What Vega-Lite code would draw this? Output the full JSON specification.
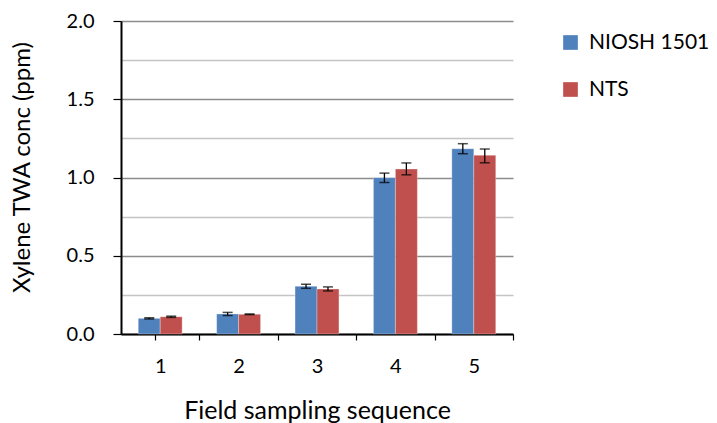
{
  "$schema": "https://vega.github.io/schema/vega-lite/v6.json",
  "width": 392,
  "height": 313,
  "autosize": {"type": "none"},
  "padding": {"left": 121, "top": 21, "right": 204, "bottom": 89},
  "background": "white",
  "config": {
    "font": "Lato",
    "view": {"stroke": null},
    "axis": {"labelColor": "#000", "titleColor": "#000", "labelFont": "Lato", "titleFont": "Lato", "titleFontWeight": "normal"}
  },
  "data": {
    "values": [
      {"seq": "1", "method": "NIOSH 1501", "value": 0.100, "lo": 0.096, "hi": 0.104},
      {"seq": "1", "method": "NTS", "value": 0.110, "lo": 0.106, "hi": 0.114},
      {"seq": "2", "method": "NIOSH 1501", "value": 0.128, "lo": 0.118, "hi": 0.138},
      {"seq": "2", "method": "NTS", "value": 0.126, "lo": 0.124, "hi": 0.128},
      {"seq": "3", "method": "NIOSH 1501", "value": 0.305, "lo": 0.292, "hi": 0.318},
      {"seq": "3", "method": "NTS", "value": 0.288, "lo": 0.275, "hi": 0.301},
      {"seq": "4", "method": "NIOSH 1501", "value": 0.999, "lo": 0.968, "hi": 1.028},
      {"seq": "4", "method": "NTS", "value": 1.054, "lo": 1.017, "hi": 1.093},
      {"seq": "5", "method": "NIOSH 1501", "value": 1.184, "lo": 1.152, "hi": 1.216},
      {"seq": "5", "method": "NTS", "value": 1.142, "lo": 1.094, "hi": 1.182}
    ]
  },
  "encoding": {
    "x": {
      "field": "seq", "type": "nominal",
      "scale": {"paddingInner": 0.44, "paddingOuter": 0.22},
      "axis": {
        "title": "Field sampling sequence", "titleFontSize": 25, "titlePadding": 22,
        "labelAngle": 0, "labelFontSize": 20, "labelPadding": 16,
        "domainColor": "#000", "domainWidth": 2,
        "ticks": true, "tickColor": "#000", "tickWidth": 1.2, "tickSize": 6,
        "bandPosition": 1, "tickOffset": 17.2, "tickExtra": true, "labelOffset": -17.2
      }
    },
    "xOffset": {"field": "method", "type": "nominal", "sort": ["NIOSH 1501", "NTS"]}
  },
  "resolve": {"axis": {"y": "independent"}},
  "layer": [
    {
      "mark": {"type": "bar", "stroke": "white", "strokeOpacity": 0.5, "strokeWidth": 0.6},
      "encoding": {
        "y": {
          "field": "value", "type": "quantitative",
          "scale": {"domain": [0, 2], "nice": false},
          "axis": {
            "orient": "right", "title": null, "labels": false, "ticks": false, "domain": false,
            "values": [0.25, 0.75, 1.25, 1.75],
            "grid": true, "gridColor": "#c4c4c4", "gridWidth": 1.5
          }
        },
        "color": {
          "field": "method", "type": "nominal",
          "scale": {"domain": ["NIOSH 1501", "NTS"], "range": ["#4F81BD", "#C0504D"]},
          "legend": {
            "title": null, "orient": "none", "legendX": 439, "legendY": 11,
            "symbolType": "square", "symbolSize": 215, "symbolStrokeWidth": 0,
            "labelFontSize": 21, "labelFont": "Lato", "labelColor": "#000",
            "labelOffset": 8, "rowPadding": 25
          }
        }
      }
    },
    {
      "mark": {"type": "rule", "color": "#000", "strokeWidth": 1.3},
      "encoding": {
        "y": {
          "field": "lo", "type": "quantitative",
          "axis": {
            "orient": "left",
            "title": "Xylene TWA conc (ppm)", "titleFontSize": 24, "titlePadding": 32, "titleY": 146,
            "values": [0, 0.5, 1, 1.5, 2], "format": ".1f",
            "labelFontSize": 20, "labelPadding": 19,
            "domainColor": "#000", "domainWidth": 2,
            "tickColor": "#000", "tickSize": 8, "tickWidth": 1.2,
            "grid": true, "gridColor": "#8c8c8c", "gridWidth": 1.5
          }
        },
        "y2": {"field": "hi"}
      }
    },
    {
      "mark": {"type": "tick", "color": "#000", "thickness": 1.5, "size": 10},
      "encoding": {"y": {"field": "lo", "type": "quantitative", "axis": null}}
    },
    {
      "mark": {"type": "tick", "color": "#000", "thickness": 1.5, "size": 10},
      "encoding": {"y": {"field": "hi", "type": "quantitative", "axis": null}}
    }
  ]
}
